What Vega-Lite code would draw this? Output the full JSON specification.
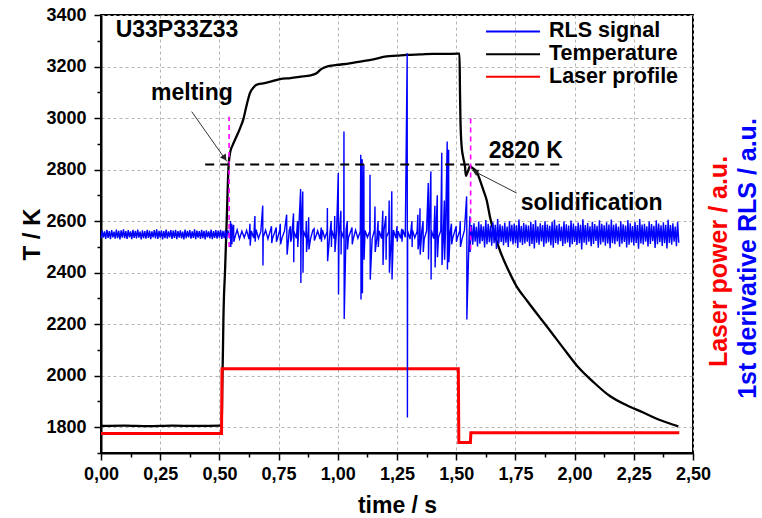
{
"$schema":"https://vega.github.io/schema/vega-lite/v6.json",
"width":592,"height":438,
"autosize":{"type":"none"},
"padding":{"left":101,"top":15,"right":69,"bottom":65},
"config":{"font":"Liberation Sans","view":{"stroke":"black","strokeWidth":2}},
"datasets":{
"temp":[{"t":0,"v":1805},{"t":0.1,"v":1806},{"t":0.2,"v":1804},{"t":0.3,"v":1806},{"t":0.4,"v":1805},{"t":0.505,"v":1806},{"t":0.51,"v":1806},{"t":0.512,"v":1950},{"t":0.515,"v":2100},{"t":0.517,"v":2220},{"t":0.524,"v":2412},{"t":0.531,"v":2606},{"t":0.538,"v":2800},{"t":0.545,"v":2865},{"t":0.556,"v":2895},{"t":0.566,"v":2916},{"t":0.587,"v":2960},{"t":0.601,"v":2995},{"t":0.615,"v":3050},{"t":0.629,"v":3097},{"t":0.645,"v":3120},{"t":0.657,"v":3129},{"t":0.685,"v":3135},{"t":0.72,"v":3142},{"t":0.756,"v":3151},{"t":0.8,"v":3155},{"t":0.854,"v":3162},{"t":0.88,"v":3165},{"t":0.91,"v":3174},{"t":0.93,"v":3190},{"t":0.953,"v":3200},{"t":0.995,"v":3206},{"t":1.05,"v":3212},{"t":1.094,"v":3219},{"t":1.15,"v":3228},{"t":1.206,"v":3239},{"t":1.25,"v":3242},{"t":1.291,"v":3245},{"t":1.35,"v":3247},{"t":1.403,"v":3249},{"t":1.45,"v":3249},{"t":1.509,"v":3250},{"t":1.514,"v":3250},{"t":1.516,"v":3100},{"t":1.518,"v":2990},{"t":1.523,"v":2890},{"t":1.53,"v":2845},{"t":1.537,"v":2812},{"t":1.541,"v":2776},{"t":1.55,"v":2795},{"t":1.558,"v":2812},{"t":1.57,"v":2805},{"t":1.586,"v":2793},{"t":1.6,"v":2760},{"t":1.614,"v":2722},{"t":1.629,"v":2680},{"t":1.643,"v":2615},{"t":1.66,"v":2555},{"t":1.685,"v":2485},{"t":1.72,"v":2410},{"t":1.755,"v":2347},{"t":1.8,"v":2290},{"t":1.854,"v":2225},{"t":1.882,"v":2192},{"t":1.95,"v":2110},{"t":2.009,"v":2040},{"t":2.08,"v":1975},{"t":2.149,"v":1921},{"t":2.22,"v":1885},{"t":2.29,"v":1857},{"t":2.36,"v":1828},{"t":2.438,"v":1803}],
"laser":[{"t":0,"v":1776},{"t":0.509,"v":1776},{"t":0.511,"v":2027},{"t":1.509,"v":2027},{"t":1.511,"v":1741},{"t":1.56,"v":1741},{"t":1.562,"v":1779},{"t":2.442,"v":1779}],
"rls":[
{"t":0,"v":2533},{"t":0.005,"v":2563},{"t":0.01,"v":2536},{"t":0.015,"v":2560},{"t":0.02,"v":2531},{"t":0.025,"v":2566},{"t":0.03,"v":2535},{"t":0.035,"v":2561},{"t":0.04,"v":2530},{"t":0.045,"v":2565},{"t":0.05,"v":2537},{"t":0.055,"v":2559},{"t":0.06,"v":2532},{"t":0.065,"v":2567},{"t":0.07,"v":2534},{"t":0.075,"v":2562},{"t":0.08,"v":2529},{"t":0.085,"v":2564},{"t":0.09,"v":2536},{"t":0.095,"v":2568},
{"t":0.1,"v":2534},{"t":0.105,"v":2561},{"t":0.11,"v":2531},{"t":0.115,"v":2565},{"t":0.12,"v":2537},{"t":0.125,"v":2560},{"t":0.13,"v":2530},{"t":0.135,"v":2566},{"t":0.14,"v":2535},{"t":0.145,"v":2562},{"t":0.15,"v":2533},{"t":0.155,"v":2567},{"t":0.16,"v":2536},{"t":0.165,"v":2559},{"t":0.17,"v":2529},{"t":0.175,"v":2564},{"t":0.18,"v":2534},{"t":0.185,"v":2561},{"t":0.19,"v":2532},{"t":0.195,"v":2566},
{"t":0.2,"v":2535},{"t":0.205,"v":2563},{"t":0.21,"v":2530},{"t":0.215,"v":2560},{"t":0.22,"v":2537},{"t":0.225,"v":2565},{"t":0.23,"v":2533},{"t":0.235,"v":2568},{"t":0.24,"v":2531},{"t":0.245,"v":2562},{"t":0.25,"v":2536},{"t":0.255,"v":2564},{"t":0.26,"v":2529},{"t":0.265,"v":2561},{"t":0.27,"v":2534},{"t":0.275,"v":2567},{"t":0.28,"v":2532},{"t":0.285,"v":2560},{"t":0.29,"v":2537},{"t":0.295,"v":2565},
{"t":0.3,"v":2531},{"t":0.305,"v":2563},{"t":0.31,"v":2535},{"t":0.315,"v":2566},{"t":0.32,"v":2530},{"t":0.325,"v":2561},{"t":0.33,"v":2536},{"t":0.335,"v":2564},{"t":0.34,"v":2533},{"t":0.345,"v":2559},{"t":0.35,"v":2529},{"t":0.355,"v":2567},{"t":0.36,"v":2534},{"t":0.365,"v":2562},{"t":0.37,"v":2537},{"t":0.375,"v":2565},{"t":0.38,"v":2532},{"t":0.385,"v":2560},{"t":0.39,"v":2535},{"t":0.395,"v":2568},
{"t":0.4,"v":2530},{"t":0.405,"v":2563},{"t":0.41,"v":2536},{"t":0.415,"v":2561},{"t":0.42,"v":2531},{"t":0.425,"v":2566},{"t":0.43,"v":2534},{"t":0.435,"v":2562},{"t":0.44,"v":2529},{"t":0.445,"v":2564},{"t":0.45,"v":2537},{"t":0.455,"v":2560},{"t":0.46,"v":2533},{"t":0.465,"v":2567},{"t":0.47,"v":2530},{"t":0.475,"v":2561},{"t":0.48,"v":2535},{"t":0.485,"v":2565},{"t":0.49,"v":2532},{"t":0.495,"v":2563},
{"t":0.5,"v":2536},{"t":0.505,"v":2566},{"t":0.51,"v":2531},{"t":0.515,"v":2562},{"t":0.52,"v":2534},{"t":0.525,"v":2564},{"t":0.53,"v":2530},
{"t":0.535,"v":2565},{"t":0.545,"v":2532},{"t":0.555,"v":2563},{"t":0.565,"v":2535},{"t":0.575,"v":2566},{"t":0.585,"v":2531},{"t":0.595,"v":2561},{"t":0.605,"v":2536},{"t":0.615,"v":2564},{"t":0.625,"v":2530},{"t":0.635,"v":2562},{"t":0.645,"v":2534},{"t":0.655,"v":2567},{"t":0.665,"v":2533},{"t":0.675,"v":2560},{"t":0.685,"v":2537},{"t":0.695,"v":2565},{"t":0.705,"v":2531},{"t":0.715,"v":2563},{"t":0.725,"v":2535},{"t":0.735,"v":2561},{"t":0.745,"v":2532},{"t":0.755,"v":2566},{"t":0.765,"v":2536},{"t":0.775,"v":2562},{"t":0.785,"v":2530},{"t":0.795,"v":2564},{"t":0.805,"v":2534},{"t":0.815,"v":2560},{"t":0.825,"v":2533},{"t":0.835,"v":2567},{"t":0.845,"v":2531},{"t":0.855,"v":2563},{"t":0.865,"v":2536},{"t":0.875,"v":2561},{"t":0.885,"v":2532},{"t":0.895,"v":2565},{"t":0.905,"v":2535},{"t":0.915,"v":2562},{"t":0.925,"v":2530},{"t":0.935,"v":2566},{"t":0.945,"v":2534},{"t":0.955,"v":2560},{"t":0.965,"v":2537},{"t":0.975,"v":2564},{"t":0.985,"v":2531},{"t":0.995,"v":2563},{"t":1.005,"v":2535},{"t":1.015,"v":2561},{"t":1.025,"v":2532},{"t":1.035,"v":2567},{"t":1.045,"v":2536},{"t":1.055,"v":2562},{"t":1.065,"v":2530},{"t":1.075,"v":2565},{"t":1.085,"v":2534},{"t":1.095,"v":2560},{"t":1.105,"v":2533},{"t":1.115,"v":2564},{"t":1.125,"v":2537},{"t":1.135,"v":2561},{"t":1.145,"v":2531},{"t":1.155,"v":2566},{"t":1.165,"v":2535},{"t":1.175,"v":2562},{"t":1.185,"v":2532},{"t":1.195,"v":2563},{"t":1.205,"v":2536},{"t":1.215,"v":2560},{"t":1.225,"v":2530},{"t":1.235,"v":2565},{"t":1.245,"v":2534},{"t":1.255,"v":2561},{"t":1.265,"v":2533},{"t":1.275,"v":2567},{"t":1.285,"v":2537},{"t":1.295,"v":2562},{"t":1.305,"v":2530},{"t":1.315,"v":2566},{"t":1.325,"v":2535},{"t":1.335,"v":2560},{"t":1.345,"v":2533},{"t":1.355,"v":2564},{"t":1.365,"v":2531},{"t":1.375,"v":2562},{"t":1.385,"v":2536},{"t":1.395,"v":2565},{"t":1.405,"v":2532},{"t":1.415,"v":2561},{"t":1.425,"v":2537},{"t":1.435,"v":2563},{"t":1.445,"v":2530},{"t":1.455,"v":2566},{"t":1.465,"v":2534},{"t":1.475,"v":2560},{"t":1.485,"v":2533},{"t":1.495,"v":2564},{"t":1.505,"v":2536},{"t":1.515,"v":2562},{"t":1.525,"v":2531},{"t":1.535,"v":2565},{"t":1.545,"v":2535},{"t":1.555,"v":2561},
{"t":0.547,"v":2600},{"t":0.548,"v":2500},{"t":0.552,"v":2590},{"t":0.553,"v":2510},{"t":0.56,"v":2585},{"t":0.561,"v":2520},{"t":0.629,"v":2590},{"t":0.63,"v":2505},{"t":0.65,"v":2620},{"t":0.651,"v":2520},{"t":0.683,"v":2660},{"t":0.684,"v":2428},{"t":0.72,"v":2580},{"t":0.721,"v":2515},{"t":0.74,"v":2575},{"t":0.741,"v":2520},{"t":0.757,"v":2590},{"t":0.758,"v":2510},{"t":0.784,"v":2625},{"t":0.786,"v":2470},{"t":0.8,"v":2580},{"t":0.801,"v":2520},{"t":0.813,"v":2630},{"t":0.814,"v":2440},{"t":0.83,"v":2600},{"t":0.831,"v":2500},{"t":0.843,"v":2725},{"t":0.844,"v":2360},{"t":0.852,"v":2715},{"t":0.853,"v":2400},{"t":0.867,"v":2600},{"t":0.868,"v":2480},{"t":0.877,"v":2615},{"t":0.878,"v":2490},{"t":0.9,"v":2570},{"t":0.901,"v":2525},{"t":0.93,"v":2575},{"t":0.931,"v":2520},{"t":0.956,"v":2651},{"t":0.957,"v":2444},{"t":0.972,"v":2600},{"t":0.973,"v":2500},{"t":0.987,"v":2620},{"t":0.988,"v":2480},{"t":1.002,"v":2787},{"t":1.003,"v":2315},{"t":1.013,"v":2640},{"t":1.014,"v":2470},{"t":1.026,"v":2948},{"t":1.027,"v":2220},{"t":1.04,"v":2600},{"t":1.041,"v":2490},{"t":1.06,"v":2575},{"t":1.061,"v":2510},{"t":1.097,"v":2858},{"t":1.098,"v":2296},{"t":1.103,"v":2840},{"t":1.104,"v":2320},{"t":1.11,"v":2819},{"t":1.111,"v":2450},{"t":1.136,"v":2780},{"t":1.137,"v":2373},{"t":1.157,"v":2657},{"t":1.158,"v":2480},{"t":1.17,"v":2600},{"t":1.171,"v":2500},{"t":1.19,"v":2640},{"t":1.191,"v":2430},{"t":1.203,"v":2620},{"t":1.204,"v":2450},{"t":1.217,"v":2680},{"t":1.218,"v":2400},{"t":1.228,"v":2716},{"t":1.229,"v":2373},{"t":1.25,"v":2580},{"t":1.251,"v":2520},{"t":1.27,"v":2570},{"t":1.271,"v":2520},{"t":1.293,"v":3252},{"t":1.294,"v":1838},{"t":1.313,"v":2600},{"t":1.314,"v":2500},{"t":1.338,"v":2625},{"t":1.339,"v":2490},{"t":1.347,"v":2650},{"t":1.348,"v":2470},{"t":1.36,"v":2600},{"t":1.361,"v":2480},{"t":1.382,"v":2748},{"t":1.383,"v":2451},{"t":1.393,"v":2793},{"t":1.394,"v":2373},{"t":1.41,"v":2660},{"t":1.411,"v":2420},{"t":1.42,"v":2700},{"t":1.421,"v":2460},{"t":1.439,"v":2865},{"t":1.44,"v":2430},{"t":1.45,"v":2680},{"t":1.451,"v":2450},{"t":1.462,"v":2909},{"t":1.463,"v":2412},{"t":1.468,"v":2877},{"t":1.469,"v":2440},{"t":1.48,"v":2590},{"t":1.481,"v":2510},{"t":1.5,"v":2580},{"t":1.501,"v":2520},{"t":1.517,"v":2600},{"t":1.518,"v":2500},{"t":1.544,"v":2696},{"t":1.545,"v":2218},{"t":1.558,"v":2619},{"t":1.559,"v":2480},
{"t":1.56,"v":2515},{"t":1.565,"v":2585},{"t":1.57,"v":2508},{"t":1.575,"v":2592},{"t":1.58,"v":2520},{"t":1.585,"v":2578},{"t":1.59,"v":2502},{"t":1.595,"v":2598},{"t":1.6,"v":2512},{"t":1.605,"v":2588},{"t":1.61,"v":2522},{"t":1.615,"v":2580},{"t":1.62,"v":2498},{"t":1.625,"v":2604},{"t":1.63,"v":2510},{"t":1.635,"v":2590},{"t":1.64,"v":2518},{"t":1.645,"v":2583},{"t":1.65,"v":2505},{"t":1.655,"v":2595},{"t":1.66,"v":2514},{"t":1.665,"v":2586},{"t":1.67,"v":2492},{"t":1.675,"v":2608},
{"t":1.68,"v":2512},{"t":1.685,"v":2588},{"t":1.69,"v":2519},{"t":1.695,"v":2582},{"t":1.7,"v":2506},{"t":1.705,"v":2594},{"t":1.71,"v":2516},{"t":1.715,"v":2579},{"t":1.72,"v":2500},{"t":1.725,"v":2600},{"t":1.73,"v":2521},{"t":1.735,"v":2586},{"t":1.74,"v":2509},{"t":1.745,"v":2591},{"t":1.75,"v":2514},{"t":1.755,"v":2584},{"t":1.76,"v":2496},{"t":1.765,"v":2606},{"t":1.77,"v":2517},{"t":1.775,"v":2581},{"t":1.78,"v":2507},{"t":1.785,"v":2593},{"t":1.79,"v":2513},{"t":1.795,"v":2587},
{"t":1.8,"v":2520},{"t":1.805,"v":2583},{"t":1.81,"v":2503},{"t":1.815,"v":2597},{"t":1.82,"v":2511},{"t":1.825,"v":2589},{"t":1.83,"v":2494},{"t":1.835,"v":2603},{"t":1.84,"v":2516},{"t":1.845,"v":2580},{"t":1.85,"v":2508},{"t":1.855,"v":2592},{"t":1.86,"v":2521},{"t":1.865,"v":2585},{"t":1.87,"v":2501},{"t":1.875,"v":2599},{"t":1.88,"v":2513},{"t":1.885,"v":2587},{"t":1.89,"v":2518},{"t":1.895,"v":2582},{"t":1.9,"v":2506},{"t":1.905,"v":2596},{"t":1.91,"v":2497},{"t":1.915,"v":2605},
{"t":1.92,"v":2515},{"t":1.925,"v":2584},{"t":1.93,"v":2509},{"t":1.935,"v":2590},{"t":1.94,"v":2522},{"t":1.945,"v":2579},{"t":1.95,"v":2504},{"t":1.955,"v":2598},{"t":1.96,"v":2512},{"t":1.965,"v":2588},{"t":1.97,"v":2517},{"t":1.975,"v":2583},{"t":1.98,"v":2499},{"t":1.985,"v":2602},{"t":1.99,"v":2510},{"t":1.995,"v":2591},{"t":2.0,"v":2519},{"t":2.005,"v":2581},{"t":2.01,"v":2507},{"t":2.015,"v":2594},{"t":2.02,"v":2514},{"t":2.025,"v":2586},{"t":2.03,"v":2490},{"t":2.035,"v":2607},
{"t":2.04,"v":2516},{"t":2.045,"v":2585},{"t":2.05,"v":2508},{"t":2.055,"v":2593},{"t":2.06,"v":2520},{"t":2.065,"v":2580},{"t":2.07,"v":2503},{"t":2.075,"v":2597},{"t":2.08,"v":2511},{"t":2.085,"v":2589},{"t":2.09,"v":2523},{"t":2.095,"v":2582},{"t":2.1,"v":2497},{"t":2.105,"v":2603},{"t":2.11,"v":2509},{"t":2.115,"v":2590},{"t":2.12,"v":2518},{"t":2.125,"v":2584},{"t":2.13,"v":2505},{"t":2.135,"v":2595},{"t":2.14,"v":2513},{"t":2.145,"v":2587},{"t":2.15,"v":2495},{"t":2.155,"v":2606},
{"t":2.16,"v":2514},{"t":2.165,"v":2586},{"t":2.17,"v":2510},{"t":2.175,"v":2591},{"t":2.18,"v":2521},{"t":2.185,"v":2579},{"t":2.19,"v":2501},{"t":2.195,"v":2599},{"t":2.2,"v":2512},{"t":2.205,"v":2588},{"t":2.21,"v":2519},{"t":2.215,"v":2583},{"t":2.22,"v":2498},{"t":2.225,"v":2604},{"t":2.23,"v":2508},{"t":2.235,"v":2592},{"t":2.24,"v":2517},{"t":2.245,"v":2581},{"t":2.25,"v":2506},{"t":2.255,"v":2596},{"t":2.26,"v":2515},{"t":2.265,"v":2585},{"t":2.27,"v":2493},{"t":2.275,"v":2608},
{"t":2.28,"v":2513},{"t":2.285,"v":2587},{"t":2.29,"v":2509},{"t":2.295,"v":2590},{"t":2.3,"v":2520},{"t":2.305,"v":2580},{"t":2.31,"v":2502},{"t":2.315,"v":2598},{"t":2.32,"v":2511},{"t":2.325,"v":2589},{"t":2.33,"v":2522},{"t":2.335,"v":2582},{"t":2.34,"v":2496},{"t":2.345,"v":2603},{"t":2.35,"v":2510},{"t":2.355,"v":2591},{"t":2.36,"v":2518},{"t":2.365,"v":2584},{"t":2.37,"v":2504},{"t":2.375,"v":2595},{"t":2.38,"v":2514},{"t":2.385,"v":2586},{"t":2.39,"v":2494},{"t":2.395,"v":2605},
{"t":2.4,"v":2515},{"t":2.405,"v":2585},{"t":2.41,"v":2508},{"t":2.415,"v":2592},{"t":2.42,"v":2520},{"t":2.425,"v":2579},{"t":2.43,"v":2503},{"t":2.435,"v":2597},{"t":2.44,"v":2516}
],
"magenta":[{"t":0.541,"v1":2500,"v2":3005},{"t":1.561,"v1":2490,"v2":3000}],
"level":[{"t1":0.44,"t2":1.95,"v":2820}],
"arrows":[{"t1":0.383,"v1":3025,"t2":0.531,"v2":2832},{"t1":1.755,"v1":2709,"t2":1.565,"v2":2799}],
"heads":[{"name":"melting","t":0.522,"v":2845},{"name":"solidification","t":1.58,"v":2793}],
"labels":[{"t":0.321,"v":3315,"label":"U33P33Z33"},{"t":0.384,"v":3071,"label":"melting"},{"t":1.794,"v":2846,"label":"2820 K"},{"t":2.072,"v":2645,"label":"solidification"}],
"legend":[{"series":"RLS signal","t1":1.626,"t2":1.854,"tl":1.892,"v":3336},{"series":"Temperature","t1":1.626,"t2":1.854,"tl":1.892,"v":3248},{"series":"Laser profile","t1":1.626,"t2":1.854,"tl":1.892,"v":3160}]
},
"resolve":{"axis":{"x":"independent","y":"independent"}},
"layer":[
{"data":{"name":"temp"},"mark":{"type":"line","strokeWidth":2.3,"interpolate":"monotone"},
"encoding":{
"x":{"field":"t","type":"quantitative","scale":{"domain":[0,2.5],"nice":false,"zero":false},
"axis":{"orient":"bottom","values":[0,0.25,0.5,0.75,1,1.25,1.5,1.75,2,2.25,2.5],"labelExpr":"replace(format(datum.value,'.2f'),'.',',')","grid":true,"gridDash":[3,3],"gridColor":"#b4b4b4","gridWidth":1,"domainColor":"black","domainWidth":2,"tickColor":"black","tickWidth":1.5,"tickSize":7,"labelFont":"Liberation Sans","labelFontSize":18,"labelFontWeight":"bold","labelColor":"black","labelPadding":5,"labelFlush":false,"labelOverlap":false,"title":"time / s","titleFont":"Liberation Sans","titleFontSize":23,"titleFontWeight":"bold","titleColor":"black","titleX":296,"titleY":59,"titleAlign":"center","titleBaseline":"alphabetic","titleAnchor":null}},
"y":{"field":"v","type":"quantitative","scale":{"domain":[1700,3400],"nice":false,"zero":false},
"axis":{"orient":"left","values":[1800,2000,2200,2400,2600,2800,3000,3200,3400],"format":"d","grid":true,"gridDash":[3,3],"gridColor":"#b4b4b4","gridWidth":1,"domainColor":"black","domainWidth":2,"tickColor":"black","tickWidth":1.5,"tickSize":7,"labelFont":"Liberation Sans","labelFontSize":18,"labelFontWeight":"bold","labelColor":"black","labelPadding":8,"labelFlush":false,"labelOverlap":false,"title":"T / K","titleFont":"Liberation Sans","titleFontSize":24,"titleFontWeight":"bold","titleColor":"black","titleX":-69,"titleY":219,"titleAngle":270,"titleAlign":"center","titleBaseline":"middle","titleAnchor":null}},
"color":{"datum":"Temperature","type":"nominal","scale":{"domain":["RLS signal","Temperature","Laser profile"],"range":["#0000ff","#000000","#ff0000"]},"legend":null}}},
{"data":{"name":"laser"},"mark":{"type":"line","strokeWidth":3},
"encoding":{
"x":{"field":"t","type":"quantitative","axis":null},
"y":{"field":"v","type":"quantitative","axis":{"orient":"right","labels":false,"ticks":false,"domain":false,"grid":false,"title":"Laser power / a.u.","titleFont":"Liberation Sans","titleFontSize":25,"titleFontWeight":"bold","titleColor":"#ff0000","titleAngle":270,"titleX":25,"titleY":246,"titleAlign":"center","titleBaseline":"middle","titleAnchor":null}},
"color":{"datum":"Laser profile","type":"nominal","legend":null}}},
{"data":{"name":"rls"},"mark":{"type":"line","strokeWidth":1.4},
"encoding":{
"x":{"field":"t","type":"quantitative","axis":null},
"y":{"field":"v","type":"quantitative","axis":{"orient":"right","labels":false,"ticks":false,"domain":false,"grid":false,"title":"1st derivative RLS / a.u.","titleFont":"Liberation Sans","titleFontSize":25,"titleFontWeight":"bold","titleColor":"#0000ff","titleAngle":270,"titleX":54,"titleY":243,"titleAlign":"center","titleBaseline":"middle","titleAnchor":null}},
"color":{"datum":"RLS signal","type":"nominal","legend":null}}},
{"data":{"name":"magenta"},"mark":{"type":"rule","color":"#ff00ff","strokeWidth":1.6,"strokeDash":[5,4]},
"encoding":{
"x":{"field":"t","type":"quantitative","axis":{"orient":"bottom","values":[0.125,0.375,0.625,0.875,1.125,1.375,1.625,1.875,2.125,2.375],"labels":false,"grid":false,"domain":false,"tickColor":"black","tickWidth":1.5,"tickSize":4,"title":null}},
"y":{"field":"v1","type":"quantitative","axis":{"orient":"left","values":[1700,1900,2100,2300,2500,2700,2900,3100,3300],"labels":false,"grid":false,"domain":false,"tickColor":"black","tickWidth":1.5,"tickSize":4,"title":null}},
"y2":{"field":"v2"}}},
{"data":{"name":"level"},"mark":{"type":"rule","color":"black","strokeWidth":2,"strokeDash":[9,6]},
"encoding":{"x":{"field":"t1","type":"quantitative","axis":null},"x2":{"field":"t2"},"y":{"field":"v","type":"quantitative","axis":null}}},
{"data":{"name":"arrows"},"mark":{"type":"rule","color":"#333333","strokeWidth":1},
"encoding":{"x":{"field":"t1","type":"quantitative","axis":null},"x2":{"field":"t2"},"y":{"field":"v1","type":"quantitative","axis":null},"y2":{"field":"v2"}}},
{"data":{"name":"heads"},"transform":[{"filter":"datum.name == 'melting'"}],"mark":{"type":"point","shape":"triangle-up","filled":true,"color":"#222222","size":50,"angle":145,"opacity":1},
"encoding":{"x":{"field":"t","type":"quantitative","axis":null},"y":{"field":"v","type":"quantitative","axis":null}}},
{"data":{"name":"heads"},"transform":[{"filter":"datum.name == 'solidification'"}],"mark":{"type":"point","shape":"triangle-up","filled":true,"color":"#222222","size":50,"angle":297,"opacity":1},
"encoding":{"x":{"field":"t","type":"quantitative","axis":null},"y":{"field":"v","type":"quantitative","axis":null}}},
{"data":{"name":"labels"},"mark":{"type":"text","font":"Liberation Sans","fontSize":23,"fontWeight":"bold","align":"center","baseline":"alphabetic","color":"black"},
"encoding":{"x":{"field":"t","type":"quantitative","axis":null},"y":{"field":"v","type":"quantitative","axis":null},"text":{"field":"label"}}},
{"data":{"name":"legend"},"mark":{"type":"rule","strokeWidth":2},
"encoding":{"x":{"field":"t1","type":"quantitative","axis":null},"x2":{"field":"t2"},"y":{"field":"v","type":"quantitative","axis":null},"color":{"field":"series","type":"nominal","legend":null}}},
{"data":{"name":"legend"},"mark":{"type":"text","font":"Liberation Sans","fontSize":21.5,"fontWeight":"bold","align":"left","baseline":"middle","color":"black"},
"encoding":{"x":{"field":"tl","type":"quantitative","axis":null},"y":{"field":"v","type":"quantitative","axis":null},"text":{"field":"series"}}}
]
}
